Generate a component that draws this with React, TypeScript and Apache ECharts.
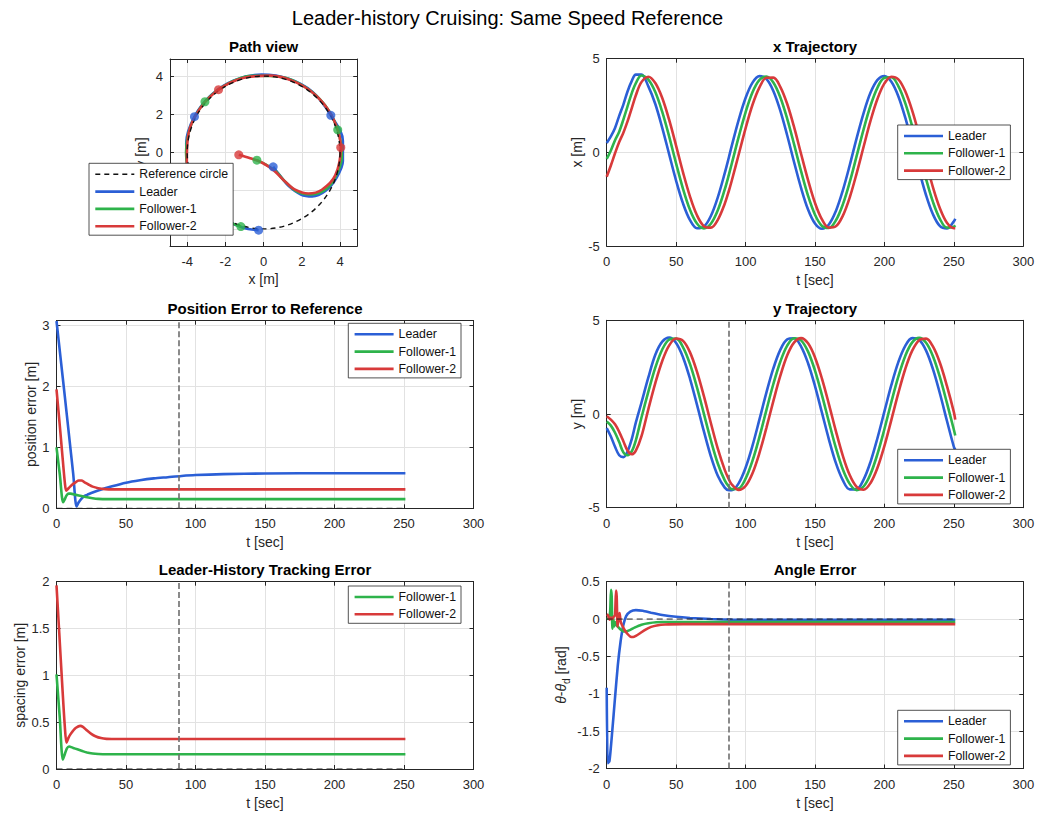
import React, { useEffect, useRef } from 'react';
import * as echarts from 'echarts';

// ---------- styling ----------
const FONT = "'Liberation Sans', Arial, Helvetica, sans-serif";
const INK = '#262626';
const GRID_LINE = '#e2e2e2';
const LEADER_COLOR = '#2b5fd6';
const F1_COLOR = '#2eb34b';
const F2_COLOR = '#d83a3a';
const EVENT_COLOR = '#6e6e6e';

// ---------- labels ----------
const MAIN_TITLE = 'Leader-history Cruising: Same Speed Reference';
const LEADER = 'Leader';
const F1 = 'Follower-1';
const F2 = 'Follower-2';
const REF_LABEL = 'Reference circle';

// ---------- constants ----------
const T_END = 251;
const EVENT_T = 88;
const PATH_END_T = 88;
const MARK_TIMES = [0, 30, 60, 88];
const REF_RADIUS = 4;
const REF_CENTER = [0, 0];
const ZERO_REF = [[0, 0], [T_END, 0]];

// ---------- trajectories (shared time base) ----------
const T_TRAJ = [0, 3, 6, 9, 12, 15, 18, 21, 25, 30, 35, 40, 45, 50, 55, 60, 65, 70, 75, 80, 85, 88,
  90, 95, 100, 105, 110, 115, 120, 125, 130, 135, 140, 145, 150, 155, 160, 165, 170, 175, 180, 185,
  190, 195, 200, 205, 210, 215, 220, 225, 230, 235, 240, 245, 250, 251];

const LEADER_X = [0.5, 0.85, 1.3, 1.95, 2.55, 3.25, 3.8, 4.15, 4.15, 3.52, 2.58, 1.31, -0.11, -1.52, -2.74,
  -3.62, -4.05, -3.97, -3.40, -2.40, -1.11, -0.26,
  0.33, 1.72, 2.90, 3.72, 4.07, 3.92, 3.28, 2.23, 0.90, -0.54, -1.91, -3.05, -3.80, -4.08, -3.85, -3.14,
  -2.04, -0.69, 0.76, 2.10, 3.19, 3.87, 4.08, 3.77, 3.00, 1.85, 0.47, -0.97, -2.29, -3.32, -3.94, -4.06,
  -3.69, -3.55];
const LEADER_Y = [-0.75, -1.2, -1.75, -2.2, -2.3, -2.0, -1.35, -0.45, 0.6, 1.95, 3.16, 3.86, 4.08, 3.79,
  3.02, 1.88, 0.50, -0.93, -2.26, -3.30, -3.93, -4.07,
  -4.07, -3.70, -2.87, -1.69, -0.29, 1.14, 2.43, 3.42, 3.98, 4.04, 3.60, 2.71, 1.49, 0.07, -1.35, -2.61,
  -3.53, -4.02, -4.01, -3.50, -2.55, -1.28, 0.14, 1.55, 2.77, 3.64, 4.05, 3.96, 3.38, 2.38, 1.08, -0.36,
  -1.75, -1.9];

const F1_X = [-0.35, 0.1, 0.65, 1.1, 1.75, 2.45, 3.15, 3.7, 4.1, 3.88, 3.22, 2.16, 0.84, -0.60, -1.96,
  -3.07, -3.80, -4.06, -3.81, -3.09, -1.98, -1.19,
  -0.62, 0.81, 2.14, 3.21, 3.87, 4.05, 3.73, 2.94, 1.79, 0.41, -1.02, -2.32, -3.33, -3.93, -4.04, -3.64,
  -2.79, -1.59, -0.19, 1.23, 2.50, 3.46, 3.98, 4.01, 3.54, 2.63, 1.39, -0.02, -1.43, -2.66, -3.56, -4.02,
  -3.97, -3.90];
const F1_Y = [-0.40, -0.62, -1.0, -1.5, -2.05, -2.2, -2.0, -1.4, -0.2, 1.19, 2.47, 3.44, 3.97, 4.02, 3.56,
  2.66, 1.42, 0.01, -1.40, -2.64, -3.54, -3.88,
  -4.01, -3.98, -3.45, -2.49, -1.22, 0.21, 1.60, 2.79, 3.65, 4.04, 3.93, 3.33, 2.32, 1.01, -0.42, -1.80,
  -2.95, -3.73, -4.06, -3.87, -3.20, -2.13, -0.80, 0.64, 1.99, 3.10, 3.82, 4.06, 3.80, 3.07, 1.95, 0.59,
  -0.84, -1.15];

const F2_X = [-1.3, -0.7, -0.05, 0.55, 1.05, 1.65, 2.35, 3.05, 3.75, 4.04, 3.70, 2.90, 1.73, 0.35, -1.08,
  -2.36, -3.36, -3.94, -4.02, -3.60, -2.74, -2.05,
  -1.53, -0.13, 1.28, 2.54, 3.47, 3.98, 3.99, 3.50, 2.58, 1.33, -0.09, -1.48, -2.70, -3.58, -4.02, -3.95,
  -3.39, -2.41, -1.12, 0.30, 1.69, 2.86, 3.68, 4.04, 3.90, 3.26, 2.23, 0.92, -0.51, -1.88, -3.00, -3.76,
  -4.05, -4.05];
const F2_Y = [-0.12, -0.3, -0.55, -0.95, -1.45, -1.95, -2.15, -1.95, -1.2, 0.26, 1.65, 2.83, 3.66, 4.03, 3.90,
  3.29, 2.26, 0.95, -0.48, -1.85, -2.98, -3.49,
  -3.75, -4.05, -3.84, -3.16, -2.08, -0.74, 0.69, 2.03, 3.13, 3.82, 4.05, 3.77, 3.02, 1.89, 0.53, -0.90,
  -2.22, -3.26, -3.89, -4.04, -3.68, -2.87, -1.70, -0.31, 1.11, 2.40, 3.38, 3.94, 4.02, 3.59, 2.72, 1.50,
  0.10, -0.3];

// ---------- position error to reference [t, m] ----------
const POS_ERR_LEADER = [[0, 3.07], [3, 2.45], [6, 1.83], [9, 1.2], [12, 0.57], [14.5, 0.03], [16, 0.1],
  [18, 0.16], [20, 0.2], [22, 0.22], [25, 0.25], [30, 0.29], [40, 0.36], [50, 0.42], [60, 0.46],
  [70, 0.49], [80, 0.51], [90, 0.53], [100, 0.545], [120, 0.56], [150, 0.57], [200, 0.575], [251, 0.575]];
const POS_ERR_F1 = [[0, 1.0], [2.4, 0.55], [4.8, 0.1], [6, 0.15], [7.2, 0.21], [8.8, 0.24], [10, 0.24],
  [14, 0.22], [18, 0.2], [22, 0.18], [26, 0.165], [30, 0.155], [36, 0.15], [60, 0.15], [251, 0.15]];
const POS_ERR_F2 = [[0, 1.95], [2, 1.45], [4, 0.93], [6, 0.42], [7, 0.29], [8, 0.31], [10, 0.36], [12, 0.4],
  [14, 0.43], [16, 0.455], [18, 0.455], [20, 0.43], [23, 0.39], [26, 0.355], [30, 0.33], [35, 0.315],
  [40, 0.31], [60, 0.31], [251, 0.31]];

// ---------- leader-history spacing error [t, m] ----------
const SPACING_F1 = [[0, 1.01], [2.3, 0.56], [4.6, 0.1], [6, 0.16], [7.5, 0.22], [9, 0.24], [12, 0.225],
  [15, 0.21], [18, 0.195], [22, 0.175], [26, 0.165], [30, 0.16], [36, 0.157], [60, 0.157], [251, 0.157]];
const SPACING_F2 = [[0, 1.96], [2, 1.45], [4, 0.93], [6, 0.45], [7.2, 0.28], [8.5, 0.33], [10, 0.37],
  [12, 0.41], [14, 0.44], [17, 0.46], [19, 0.45], [22, 0.41], [25, 0.375], [28, 0.35], [32, 0.33],
  [36, 0.322], [45, 0.32], [251, 0.32]];

// ---------- heading error [t, rad] ----------
const ANGLE_LEADER = [[0, -0.92], [0.7, -1.93], [2, -1.9], [4, -1.5], [6, -1.05], [8, -0.62], [10, -0.3],
  [12, -0.08], [14, 0.04], [17, 0.1], [21, 0.12], [26, 0.11], [32, 0.085], [40, 0.055], [50, 0.03],
  [60, 0.015], [75, 0.0], [90, -0.008], [251, -0.01]];
const ANGLE_F1 = [[0, 0], [1.5, 0.01], [2.5, 0.1], [3.1, 0.39], [3.6, 0.3], [4.1, -0.13], [4.7, 0.02],
  [5.3, -0.1], [6, -0.04], [7, -0.08], [8.5, -0.11], [10, -0.14], [12, -0.165], [14, -0.165],
  [17, -0.145], [20, -0.115], [25, -0.075], [30, -0.055], [40, -0.04], [251, -0.04]];
const ANGLE_F2 = [[0, 0.06], [1, 0.05], [2, -0.01], [3, 0.02], [4, 0.0], [5, 0.03], [6, 0.05], [6.7, 0.38],
  [7.2, 0.3], [7.8, -0.1], [8.5, 0.02], [9.3, 0.08], [10, -0.03], [11, -0.08], [13, -0.15], [15, -0.2],
  [17, -0.235], [19, -0.24], [21, -0.225], [24, -0.19], [28, -0.14], [32, -0.105], [36, -0.085],
  [42, -0.072], [55, -0.068], [251, -0.068]];

// ---------- layout ----------
const GRID_BOXES = [
  { left: 170, top: 59, width: 187.2, height: 187 },
  { left: 606.7, top: 58.7, width: 416.6, height: 187.3 },
  { left: 56.5, top: 320.7, width: 417, height: 187.6 },
  { left: 606.7, top: 320.3, width: 416.6, height: 187.4 },
  { left: 56.5, top: 581.7, width: 417, height: 187.3 },
  { left: 606.7, top: 581.7, width: 416.6, height: 186.8 },
];

const TITLES = [
  { text: 'Path view', x: 263.6, y: 46.5 },
  { text: 'x Trajectory', x: 815, y: 46.5 },
  { text: 'Position Error to Reference', x: 265, y: 308.3 },
  { text: 'y Trajectory', x: 815, y: 308.5 },
  { text: 'Leader-History Tracking Error', x: 265, y: 569.5 },
  { text: 'Angle Error', x: 815, y: 569.5 },
];

const evenOnly = (v: number) => (Math.abs(v / 2 - Math.round(v / 2)) < 1e-6 ? String(Math.round(v)) : '');
// the lower y labels of the path view sit under its legend box
const evenNonNegative = (v: number) => (v >= 0 ? evenOnly(v) : '');
const integerOnly = (v: number) => (Math.abs(v - Math.round(v)) < 1e-6 ? String(Math.round(v)) : '');

const T_AXIS = { min: 0, max: 300, interval: 50, name: 't [sec]', nameGap: 27 };

const PANELS: any[] = [
  {
    x: { min: -4.9, max: 4.9, splitNumber: 5, fmt: evenOnly, name: 'x [m]', nameGap: 26 },
    y: { min: -4.9, max: 4.9, splitNumber: 5, fmt: evenNonNegative, name: 'y [m]', nameGap: 22 },
  },
  { x: T_AXIS, y: { min: -5, max: 5, interval: 5, name: 'x [m]', nameGap: 22 } },
  { x: T_AXIS, y: { min: 0, max: 3.075, interval: 1, fmt: integerOnly, name: 'position error [m]', nameGap: 18 } },
  { x: T_AXIS, y: { min: -5, max: 5, interval: 5, name: 'y [m]', nameGap: 22 } },
  { x: T_AXIS, y: { min: 0, max: 2, interval: 0.5, name: 'spacing error [m]', nameGap: 30 } },
  {
    x: T_AXIS,
    y: {
      min: -2, max: 0.5, interval: 0.5, name: '{i|θ}-{i|θ}{s|d} [rad]', nameGap: 35,
      rich: {
        i: { fontStyle: 'italic', fontSize: 14, fontFamily: FONT, color: INK },
        s: { fontSize: 10, fontFamily: FONT, color: INK, padding: [12, 0, 0, 0], verticalAlign: 'bottom' },
      },
    },
  },
];

function buildAxes(kind: 'x' | 'y', gridIndex: number, spec: any) {
  const base = {
    gridIndex,
    type: 'value',
    min: spec.min,
    max: spec.max,
    interval: spec.interval,
    splitNumber: spec.splitNumber,
    axisLine: { show: true, onZero: false, lineStyle: { color: INK, width: 1 } },
    axisTick: { show: true, inside: true, length: 4, lineStyle: { color: INK, width: 1 } },
  };
  const nameStyle: any = { fontSize: 14, color: INK, fontFamily: FONT };
  if (spec.rich) nameStyle.rich = spec.rich;
  const main = {
    ...base,
    position: kind === 'x' ? 'bottom' : 'left',
    name: spec.name,
    nameLocation: 'middle',
    nameGap: spec.nameGap,
    nameTextStyle: nameStyle,
    axisLabel: {
      show: true,
      color: INK,
      fontSize: 13,
      fontFamily: FONT,
      margin: kind === 'x' ? 9 : 7,
      formatter: spec.fmt,
    },
    splitLine: { show: true, lineStyle: { color: GRID_LINE, width: 1 } },
  };
  const mirror = {
    ...base,
    position: kind === 'x' ? 'top' : 'right',
    axisLabel: { show: false },
    splitLine: { show: false },
  };
  return [main, mirror];
}

const zip = (xs: number[], ys: number[]) => xs.map((x, i) => [x, ys[i]]);
const pathOf = (xs: number[], ys: number[]) =>
  T_TRAJ.map((t, i) => (t <= PATH_END_T ? [xs[i], ys[i]] : null)).filter((p) => p !== null);
const marksOf = (xs: number[], ys: number[]) =>
  MARK_TIMES.map((t) => {
    const i = T_TRAJ.indexOf(t);
    return [xs[i], ys[i]];
  });

function line(name: string, color: string, data: any[], panel: number, extra: any = {}) {
  return {
    type: 'line',
    name,
    data,
    xAxisIndex: panel * 2,
    yAxisIndex: panel * 2,
    showSymbol: false,
    symbol: 'none',
    smooth: 0.35,
    clip: true,
    lineStyle: { color, width: 2.6 },
    itemStyle: { color },
    emphasis: { disabled: true },
    z: 2,
    ...extra,
  };
}

const eventLine = {
  silent: true,
  symbol: ['none', 'none'],
  label: { show: false },
  emphasis: { disabled: true },
  lineStyle: { color: EVENT_COLOR, type: [6, 3], width: 1.6 },
  data: [{ xAxis: EVENT_T }],
};

function zeroLine(panel: number) {
  return {
    type: 'line',
    name: 'zero-ref',
    data: ZERO_REF,
    xAxisIndex: panel * 2,
    yAxisIndex: panel * 2,
    showSymbol: false,
    symbol: 'none',
    lineStyle: { color: '#222', width: 1, type: [6, 4] },
    emphasis: { disabled: true },
    z: 3,
    markLine: eventLine,
  };
}

function legendBox(left: number, top: number, names: string[]) {
  return {
    orient: 'vertical',
    left,
    top,
    itemWidth: 39,
    itemHeight: 12,
    itemGap: 5.3,
    padding: [5, 5, 3, 5],
    backgroundColor: '#fff',
    borderColor: INK,
    borderWidth: 0.8,
    borderRadius: 0,
    selectedMode: false,
    textStyle: { fontSize: 12.3, color: '#111', fontFamily: FONT },
    lineStyle: { width: 2.6 },
    itemStyle: { opacity: 0 },
    z: 10,
    data: names.map((n) =>
      n === REF_LABEL ? { name: n, lineStyle: { width: 1.4, type: [5, 4], color: '#111' } } : { name: n }
    ),
  };
}

function buildOption() {
  const xAxes: any[] = [];
  const yAxes: any[] = [];
  PANELS.forEach((p, i) => {
    xAxes.push(...buildAxes('x', i, p.x));
    yAxes.push(...buildAxes('y', i, p.y));
  });

  const overTime = (vals: number[]) => zip(T_TRAJ, vals);

  const series: any[] = [
    // Path view
    line(REF_LABEL, '#111', [], 0, { lineStyle: { color: '#111', width: 1.4, type: [5, 4] } }),
    line(LEADER, LEADER_COLOR, pathOf(LEADER_X, LEADER_Y), 0),
    line(F1, F1_COLOR, pathOf(F1_X, F1_Y), 0),
    line(F2, F2_COLOR, pathOf(F2_X, F2_Y), 0),
    {
      type: 'custom',
      name: 'ref-circle',
      coordinateSystem: 'cartesian2d',
      xAxisIndex: 0,
      yAxisIndex: 0,
      data: [REF_CENTER],
      silent: true,
      z: 3,
      renderItem: (_params: any, api: any) => {
        const c = api.coord([api.value(0), api.value(1)]);
        const r = api.size([REF_RADIUS, 0])[0];
        return {
          type: 'circle',
          shape: { cx: c[0], cy: c[1], r },
          style: { fill: 'none', stroke: '#111', lineWidth: 1.4, lineDash: [5, 4] },
        };
      },
    },
    ...[
      ['Leader marks', LEADER_COLOR, LEADER_X, LEADER_Y],
      ['Follower-1 marks', F1_COLOR, F1_X, F1_Y],
      ['Follower-2 marks', F2_COLOR, F2_X, F2_Y],
    ].map(([name, color, xs, ys]: any) => ({
      type: 'scatter',
      name,
      data: marksOf(xs, ys),
      xAxisIndex: 0,
      yAxisIndex: 0,
      symbolSize: 9,
      itemStyle: { color },
      emphasis: { disabled: true },
      z: 4,
    })),

    // x trajectory
    line(LEADER, LEADER_COLOR, overTime(LEADER_X), 1),
    line(F1, F1_COLOR, overTime(F1_X), 1),
    line(F2, F2_COLOR, overTime(F2_X), 1),

    // position error
    zeroLine(2),
    line(LEADER, LEADER_COLOR, POS_ERR_LEADER, 2, { smooth: 0.3 }),
    line(F1, F1_COLOR, POS_ERR_F1, 2, { smooth: 0.3 }),
    line(F2, F2_COLOR, POS_ERR_F2, 2, { smooth: 0.3 }),

    // y trajectory
    line(LEADER, LEADER_COLOR, overTime(LEADER_Y), 3, { markLine: eventLine }),
    line(F1, F1_COLOR, overTime(F1_Y), 3),
    line(F2, F2_COLOR, overTime(F2_Y), 3),

    // spacing error
    zeroLine(4),
    line(F1, F1_COLOR, SPACING_F1, 4, { smooth: 0.3 }),
    line(F2, F2_COLOR, SPACING_F2, 4, { smooth: 0.3 }),

    // angle error
    zeroLine(5),
    line(LEADER, LEADER_COLOR, ANGLE_LEADER, 5, { smooth: 0.2 }),
    line(F1, F1_COLOR, ANGLE_F1, 5, { smooth: 0.2 }),
    line(F2, F2_COLOR, ANGLE_F2, 5, { smooth: 0.2 }),
  ];

  const graphic: any[] = [
    {
      type: 'text',
      x: 507.5,
      y: 18,
      style: {
        text: MAIN_TITLE,
        fontSize: 20,
        fontFamily: FONT,
        fill: '#000',
        align: 'center',
        verticalAlign: 'middle',
      },
      z: 20,
    },
    ...TITLES.map((t) => ({
      type: 'text',
      x: t.x,
      y: t.y,
      style: {
        text: t.text,
        fontSize: 15,
        fontWeight: 'bold',
        fontFamily: FONT,
        fill: '#000',
        align: 'center',
        verticalAlign: 'middle',
      },
      z: 20,
    })),
  ];

  return {
    animation: false,
    backgroundColor: '#ffffff',
    textStyle: { fontFamily: FONT },
    grid: GRID_BOXES.map((g) => ({ ...g, containLabel: false, outerBoundsMode: 'none', show: false })),
    xAxis: xAxes,
    yAxis: yAxes,
    legend: [
      legendBox(89, 163.3, [REF_LABEL, LEADER, F1, F2]),
      legendBox(897.7, 125, [LEADER, F1, F2]),
      legendBox(348.3, 323.3, [LEADER, F1, F2]),
      legendBox(897.7, 449.3, [LEADER, F1, F2]),
      legendBox(348.3, 586, [F1, F2]),
      legendBox(897.7, 710.3, [LEADER, F1, F2]),
    ],
    graphic,
    series,
  };
}

export default function App() {
  const ref = useRef<HTMLDivElement>(null);
  useEffect(() => {
    if (!ref.current) return;
    const chart = echarts.init(ref.current, null, { renderer: 'svg' });
    chart.setOption(buildOption() as any);
    return () => chart.dispose();
  }, []);
  return (
    <div
      ref={ref}
      style={{ position: 'absolute', left: 0, top: 0, width: 1040, height: 816, background: '#fff' }}
    />
  );
}
